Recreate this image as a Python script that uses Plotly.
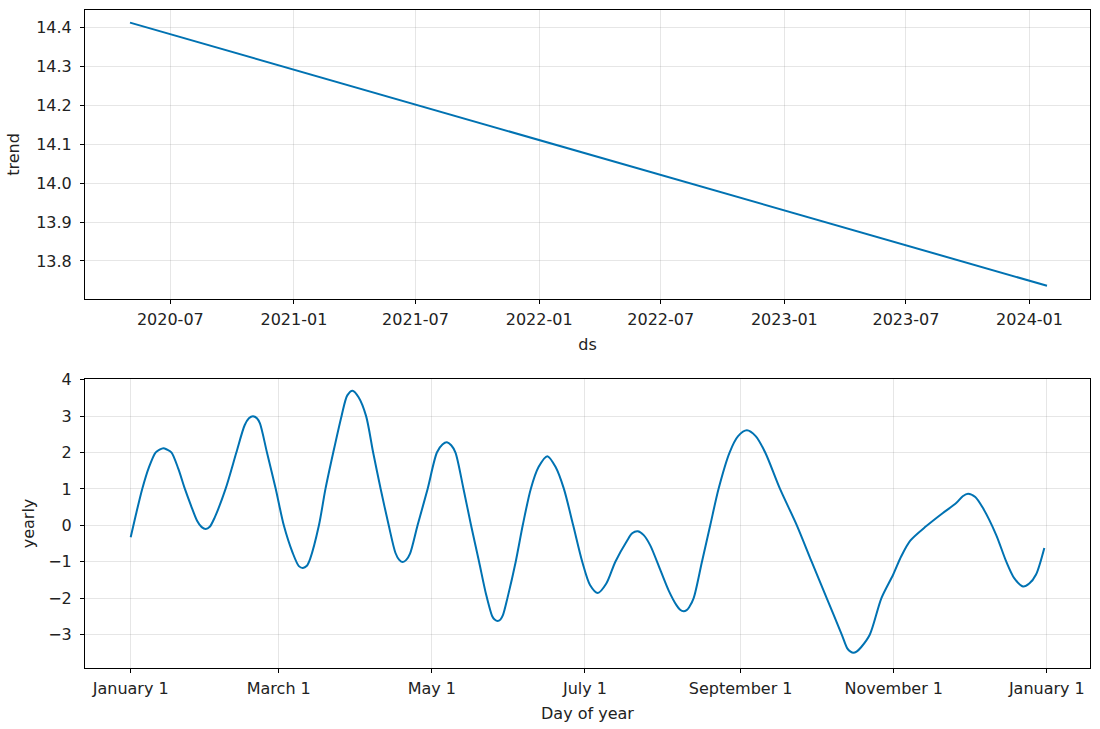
import pandas as pd
import plotly.graph_objects as go
from plotly.subplots import make_subplots

# ---- data ----
trend_dates = ["2020-05-02", "2024-01-27"]
trend_values = [14.413, 13.736]

trend_tick_vals = ["2020-07-01", "2021-01-01", "2021-07-01", "2022-01-01",
                   "2022-07-01", "2023-01-01", "2023-07-01", "2024-01-01"]
trend_tick_text = ["2020-07", "2021-01", "2021-07", "2022-01",
                   "2022-07", "2023-01", "2023-07", "2024-01"]

yearly_days = [0, 2.0, 4.6, 7.3, 9.9, 11.5, 13.0, 14.5,
               16.3, 19.0, 21.6, 24.0, 26.5, 28.3, 29.9, 31.5,
               33.5, 37.8, 42.1, 45.4, 47.1, 48.7, 50.3,
               51.5, 54.3, 57.8, 61.0, 64.5, 67.0, 68.6, 70.2,
               71.5, 75.0, 77.6, 80.7, 84.0, 86.3, 88.4,
               90.8, 93.8, 96.6, 99.6, 102.8, 105.5, 107.0, 108.4, 109.8,
               111.3, 114.3, 118.3, 122.0, 124.2, 126.0, 127.7,
               129.4, 132.6, 135.6, 138.8, 141.6, 144.0, 145.0, 146.2, 147.3,
               148.3, 150.1, 153.4, 156.2, 159.4, 162.5, 166.0,
               169.3, 172.6, 176.3, 179.9, 183.0, 186.1,
               189.5, 193.1, 197.7, 199.8, 202.0, 204.4,
               207.0, 211.2, 214.4, 217.5, 218.9, 220.3, 221.5,
               222.5, 224.3, 227.6, 230.9, 234.2, 238.6, 242.0, 245.5,
               249.0, 252.8, 258.7, 265.4, 271.3, 277.3, 283.3, 285.5, 286.8, 287.9, 289.2,
               291.0, 294.5, 299.1, 303.8, 307.0, 310.6, 317.0, 323.6, 328.9, 331.5, 333.6,
               336.5, 339.5, 344.8, 348.8, 352.0, 355.5, 358.0, 360.7, 364.0]
yearly_values = [-0.33, 0.27, 1.0, 1.6, 2.0, 2.08, 2.12, 2.08,
                 2.0, 1.55, 1.0, 0.55, 0.12, -0.05, -0.10, -0.04,
                 0.22, 1.0, 2.0, 2.75, 2.94, 3.0, 2.94,
                 2.8, 2.0, 1.0, 0.0, -0.75, -1.12, -1.17, -1.11,
                 -0.92, 0.0, 1.0, 2.0, 3.0, 3.57, 3.70,
                 3.52, 3.0, 2.0, 1.0, 0.0, -0.76, -0.95, -1.01, -0.95,
                 -0.78, 0.0, 1.0, 2.0, 2.22, 2.28, 2.2,
                 2.0, 1.0, 0.0, -1.0, -1.9, -2.49, -2.59, -2.63, -2.59,
                 -2.47, -2.0, -1.0, 0.0, 1.0, 1.6, 1.90,
                 1.6, 1.0, 0.0, -1.0, -1.64, -1.86,
                 -1.6, -1.0, -0.43, -0.22, -0.165, -0.27,
                 -0.55, -1.26, -1.8, -2.2, -2.32, -2.36, -2.33,
                 -2.25, -2.0, -1.0, 0.0, 1.0, 2.0, 2.45, 2.61,
                 2.45, 2.0, 1.0, 0.0, -1.0, -2.0, -3.0, -3.38, -3.47, -3.50, -3.47,
                 -3.35, -3.0, -2.0, -1.35, -0.85, -0.42, -0.02, 0.34, 0.61, 0.8, 0.87,
                 0.78, 0.48, -0.26, -0.99, -1.45, -1.68, -1.6, -1.35, -0.62]

yearly_tick_vals = ["2017-01-01", "2017-03-01", "2017-05-01", "2017-07-01",
                    "2017-09-01", "2017-11-01", "2018-01-01"]
yearly_tick_text = ["January 1", "March 1", "May 1", "July 1",
                    "September 1", "November 1", "January 1"]

# ---- figure ----
base = pd.Timestamp("2017-01-01")
yearly_x = [base + pd.Timedelta(days=d) for d in yearly_days]

LINE = "#0072B2"
GRID = "rgba(128,128,128,0.2)"
FONT = "DejaVu Sans"
FS = 16

fig = make_subplots(rows=2, cols=1, vertical_spacing=0.1216)
fig.add_trace(go.Scatter(x=trend_dates, y=trend_values, mode="lines",
                         line=dict(color=LINE, width=2), showlegend=False), row=1, col=1)
fig.add_trace(go.Scatter(x=yearly_x, y=yearly_values, mode="lines",
                         line=dict(color=LINE, width=2, shape="spline", smoothing=0.8),
                         showlegend=False), row=2, col=1)

axis_common = dict(showline=True, linecolor="black", linewidth=1, mirror=True,
                   ticks="outside", ticklen=4, tickcolor="black", tickwidth=1,
                   showgrid=True, gridcolor=GRID, gridwidth=1, zeroline=False,
                   automargin=False,
                   tickfont=dict(family=FONT, size=FS, color="#222"),
                   title_font=dict(family=FONT, size=FS, color="#222"))

fig.update_layout(
    width=1100, height=729,
    margin=dict(l=85, r=10, t=10, b=61),
    plot_bgcolor="white", paper_bgcolor="white",
    font=dict(family=FONT, size=FS, color="#222"),
    xaxis=dict(axis_common, type="date", range=["2020-02-25", "2024-03-31"],
               tickvals=trend_tick_vals, ticktext=trend_tick_text, ticklabelstandoff=2,
               title=dict(text="ds", standoff=10), domain=[0, 1]),
    yaxis=dict(axis_common, range=[13.702, 14.4455], tickvals=[13.8, 13.9, 14.0, 14.1, 14.2, 14.3, 14.4],
               tickformat=".1f", ticklabelstandoff=5,
               title=dict(text="trend", standoff=12), domain=[0.5608, 1]),
    xaxis2=dict(axis_common, type="date",
                range=[base - pd.Timedelta(days=18.2), base + pd.Timedelta(days=382.2)],
                tickvals=yearly_tick_vals, ticktext=yearly_tick_text, ticklabelstandoff=2,
                title=dict(text="Day of year", standoff=10), domain=[0, 1]),
    yaxis2=dict(axis_common, range=[-3.92, 4.02], tickvals=[-3, -2, -1, 0, 1, 2, 3, 4],
                ticklabelstandoff=5,
                title=dict(text="yearly", standoff=9), domain=[0, 0.4392]),
)

fig.write_html("out.html", config={"displayModeBar": False},
               post_script="document.body.style.margin='0';")
